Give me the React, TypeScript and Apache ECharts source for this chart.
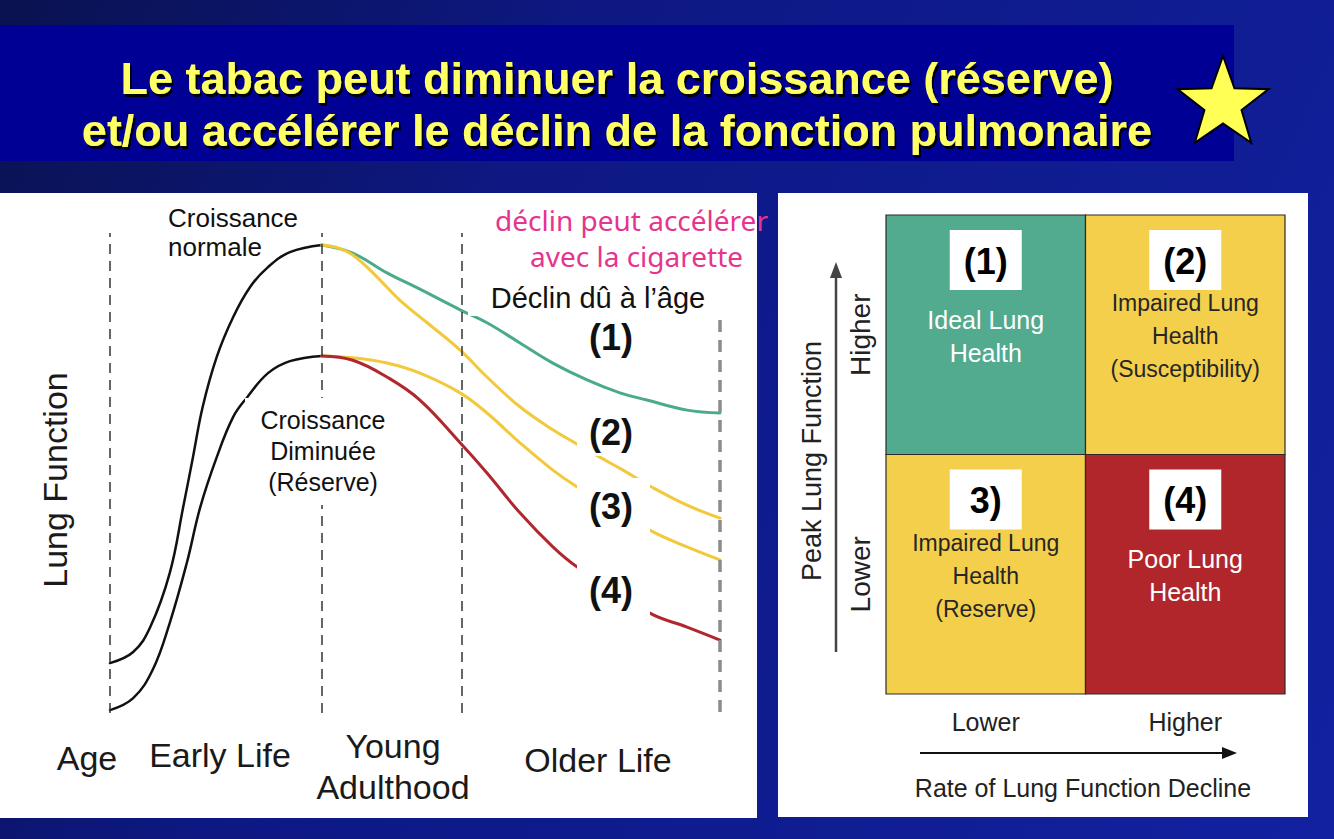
import React, { useEffect, useRef } from 'react';
import * as echarts from 'echarts';

const FONT = 'Liberation Sans, Arial, Helvetica, sans-serif';

const titleLines = [
  'Le tabac peut diminuer la croissance (réserve)',
  'et/ou accélérer le déclin de la fonction pulmonaire',
];

// ---- Left chart: x = age (0 birth … 100 end of older life), y = relative lung function
const lifePhaseBounds = [0, 34.75, 57.7];
const lifeEnd = 100;
const lifeEndDashTop = 81.9;
const phaseLabels = ['Age', 'Early Life', 'Young\nAdulthood', 'Older Life'];
const yAxisTitle = 'Lung Function';

const ageNormal = [0, 3.8, 6.6, 9.8, 12.0, 13.6, 15.2, 17.5, 20.2, 23.0, 25.9, 29.5, 34.75];
const lfNormal = [10.4, 12.7, 17.9, 29.2, 42.9, 53.3, 63.8, 74.2, 82.5, 88.8, 92.9, 96.0, 97.5];

const ageReduced = [0, 3.8, 7.0, 9.8, 12.6, 14.8, 17.5, 20.2, 22.5, 25.9, 29.5, 34.75];
const lfReduced = [0.6, 3.1, 9.0, 18.8, 31.3, 42.9, 53.3, 61.7, 65.8, 70.8, 73.3, 74.4];

const ageDecl1 = [34.75, 39.8, 45.4, 50.8, 57.4, 61.8, 67.2, 72.6, 78.2, 83.6, 88.0, 94.6, 100];
const lfDecl1 = [97.5, 95.8, 91.7, 88.3, 84.0, 81.3, 77.1, 72.9, 69.4, 66.7, 65.2, 63.1, 62.5];

const ageDecl2 = [34.75, 37.4, 39.8, 43.1, 47.5, 52.0, 57.4, 61.8, 67.2, 72.6, 76.6, 80.3, 84.1, 88.5, 94.6, 100];
const lfDecl2 = [97.5, 96.9, 95.4, 91.7, 86.0, 81.3, 75.6, 70.0, 63.8, 59.0, 56.0, 53.3, 50.6, 47.3, 43.3, 40.6];

const ageDecl34 = [34.75, 39.8, 45.4, 50.8, 57.4, 61.8, 67.2, 72.6, 76.6, 88.5, 94.6, 100];
const lfDecl3 = [74.4, 74.0, 72.9, 70.8, 66.7, 62.5, 56.3, 50.6, 47.1, 38.1, 34.6, 31.9];
const lfDecl4 = [74.4, 73.5, 70.0, 65.2, 56.3, 50.0, 41.7, 34.6, 30.4, 20.8, 17.9, 15.2];

const curveLabels = ['(1)', '(2)', '(3)', '(4)'];

// ---- Right matrix
const declineLevels = ['Lower', 'Higher'];
const peakLevels = ['Lower', 'Higher'];
const quadrantDecline = [0, 1, 0, 1];
const quadrantPeak = [1, 1, 0, 0];
const quadrantNums = ['(1)', '(2)', '3)', '(4)'];
const quadrantNames = [
  'Ideal Lung\nHealth',
  'Impaired Lung\nHealth\n(Susceptibility)',
  'Impaired Lung\nHealth\n(Reserve)',
  'Poor Lung\nHealth',
];
const quadrantColors = ['#52aa8f', '#f4cf4c', '#f4cf4c', '#b0262a'];
const quadrantTextColors = ['#ffffff', '#262626', '#262626', '#ffffff'];

const pair = (xs: number[], ys: number[]) => xs.map((x, i) => [x, ys[i]]);

function txt(text: string, x: number, y: number, opts: any = {}) {
  const { z = 20, rotation = 0, ...style } = opts;
  return {
    type: 'text',
    x,
    y,
    z,
    rotation,
    style: {
      text,
      fontFamily: FONT,
      fontSize: 24,
      fill: '#111',
      align: 'center',
      textAlign: 'center',
      verticalAlign: 'middle',
      textVerticalAlign: 'middle',
      ...style,
    },
  };
}

function starPoints(cx: number, cy: number, R: number, r: number) {
  const pts: number[][] = [];
  for (let k = 0; k < 10; k++) {
    const a = (-90 + k * 36) * Math.PI / 180;
    const rr = k % 2 === 0 ? R : r;
    pts.push([cx + rr * Math.cos(a), cy + rr * Math.sin(a)]);
  }
  return pts;
}

export default function App() {
  const ref = useRef<HTMLDivElement>(null);

  useEffect(() => {
    if (!ref.current) return;
    const chart = echarts.init(ref.current, undefined, { renderer: 'svg' });

    const lineSeries = (name: string, data: number[][], color: string, width: number) => ({
      name,
      type: 'line',
      xAxisIndex: 0,
      yAxisIndex: 0,
      data,
      smooth: 0.4,
      symbol: 'none',
      lineStyle: { color, width, cap: 'round' },
      z: 3,
    });

    const graphics: any[] = [
      // title band
      { type: 'rect', z: 0, shape: { x: 0, y: 25, width: 1234, height: 136 }, style: { fill: '#000094' } },
      // panels
      { type: 'rect', z: 0, shape: { x: 0, y: 193, width: 757, height: 625 }, style: { fill: '#ffffff' } },
      { type: 'rect', z: 0, shape: { x: 778, y: 193, width: 530, height: 624 }, style: { fill: '#ffffff' } },
      // star
      { type: 'polygon', z: 5, shape: { points: starPoints(1223, 104, 48, 19.5) }, style: { fill: '#ffff55', stroke: '#000', lineWidth: 2 } },
      // title
      txt(titleLines[0], 617, 78, { fontSize: 45, fontWeight: 'bold', fill: '#ffff66', textShadowColor: '#000', textShadowOffsetX: 2, textShadowOffsetY: 3, textShadowBlur: 1 }),
      txt(titleLines[1], 617, 130, { fontSize: 45, fontWeight: 'bold', fill: '#ffff66', textShadowColor: '#000', textShadowOffsetX: 2, textShadowOffsetY: 3, textShadowBlur: 1 }),

      // left chart annotations
      txt('Croissance\nnormale', 168, 232, { fontSize: 26, align: 'left', textAlign: 'left', lineHeight: 29 }),
      { type: 'rect', z: 10, shape: { x: 245, y: 398, width: 155, height: 107 }, style: { fill: '#fff' } },
      txt('Croissance\nDiminuée\n(Réserve)', 323, 451, { fontSize: 25, lineHeight: 31 }),
      { type: 'rect', z: 10, shape: { x: 468, y: 279, width: 257, height: 37 }, style: { fill: '#fff' } },
      txt('Déclin dû à l’âge', 598, 298, { fontSize: 29 }),
      { type: 'rect', z: 10, shape: { x: 577, y: 408, width: 73, height: 48 }, style: { fill: '#fff' } },
      { type: 'rect', z: 10, shape: { x: 577, y: 478, width: 73, height: 54 }, style: { fill: '#fff' } },
      { type: 'rect', z: 10, shape: { x: 577, y: 562, width: 73, height: 54 }, style: { fill: '#fff' } },
      txt(curveLabels[0], 611, 337, { fontSize: 36, fontWeight: 'bold' }),
      txt(curveLabels[1], 611, 432, { fontSize: 36, fontWeight: 'bold' }),
      txt(curveLabels[2], 611, 506, { fontSize: 36, fontWeight: 'bold' }),
      txt(curveLabels[3], 611, 590, { fontSize: 36, fontWeight: 'bold' }),
      txt(yAxisTitle, 55, 480, { fontSize: 34, rotation: Math.PI / 2, fill: '#1a1a1a' }),
      txt(phaseLabels[0], 87, 758, { fontSize: 34, fill: '#1a1a1a' }),
      txt(phaseLabels[1], 220, 755, { fontSize: 34, fill: '#1a1a1a' }),
      txt(phaseLabels[2], 393, 766, { fontSize: 34, fill: '#1a1a1a', lineHeight: 41 }),
      txt(phaseLabels[3], 598, 760, { fontSize: 34, fill: '#1a1a1a' }),
      // handwritten note
      txt('déclin peut accélérer', 495, 220, { fontSize: 28, fontFamily: 'Noto Sans, sans-serif', fill: '#e5358e', align: 'left', textAlign: 'left', z: 30 }),
      txt('avec la cigarette', 530, 256, { fontSize: 28, fontFamily: 'Noto Sans, sans-serif', fill: '#e5358e', align: 'left', textAlign: 'left', z: 30 }),

      // right matrix axes
      txt('Peak Lung Function', 812, 461, { fontSize: 27, rotation: Math.PI / 2, fill: '#222' }),
      { type: 'line', z: 5, shape: { x1: 836, y1: 652, x2: 836, y2: 274 }, style: { stroke: '#444', lineWidth: 2.5 } },
      { type: 'polygon', z: 5, shape: { points: [[836, 262], [830, 278], [842, 278]] }, style: { fill: '#444' } },
      { type: 'line', z: 5, shape: { x1: 920, y1: 753, x2: 1226, y2: 753 }, style: { stroke: '#111', lineWidth: 2 } },
      { type: 'polygon', z: 5, shape: { points: [[1237, 753], [1222, 747], [1222, 759]] }, style: { fill: '#111' } },
      txt('Rate of Lung Function Decline', 1083, 788, { fontSize: 25, fill: '#222' }),
    ];

    const option: any = {
      animation: false,
      textStyle: { fontFamily: FONT },
      grid: [
        { left: 110, top: 233, width: 610, height: 480 },
        { left: 886, top: 215, width: 399, height: 479 },
      ],
      xAxis: [
        { gridIndex: 0, type: 'value', min: 0, max: 100, show: false },
        {
          gridIndex: 1, type: 'category', data: declineLevels,
          axisLine: { show: false }, axisTick: { show: false }, splitLine: { show: false },
          axisLabel: { fontSize: 25, color: '#222', margin: 15, fontFamily: FONT },
        },
      ],
      yAxis: [
        { gridIndex: 0, type: 'value', min: 0, max: 100, show: false },
        {
          gridIndex: 1, type: 'category', data: peakLevels,
          axisLine: { show: false }, axisTick: { show: false }, splitLine: { show: false },
          axisLabel: { rotate: 90, fontSize: 28, color: '#222', margin: 12, fontFamily: FONT },
        },
      ],
      series: [
        {
          ...lineSeries('Croissance normale', pair(ageNormal, lfNormal), '#111', 2.5),
          markLine: {
            silent: true,
            symbol: 'none',
            label: { show: false },
            lineStyle: { color: '#333', width: 1.5, type: [10, 7] },
            data: [
              ...lifePhaseBounds.map((v) => ({ xAxis: v })),
              [
                { coord: [lifeEnd, lifeEndDashTop], lineStyle: { color: '#8c8c8c', width: 3.5, type: [12, 8] } },
                { coord: [lifeEnd, 0] },
              ],
            ],
          },
        },
        lineSeries('Croissance diminuée', pair(ageReduced, lfReduced), '#111', 2.5),
        lineSeries('(1)', pair(ageDecl1, lfDecl1), '#4caa8c', 3),
        lineSeries('(2)', pair(ageDecl2, lfDecl2), '#f2c93a', 3),
        lineSeries('(3)', pair(ageDecl34, lfDecl3), '#f2c93a', 3),
        lineSeries('(4)', pair(ageDecl34, lfDecl4), '#b0272d', 3),
        {
          type: 'custom',
          coordinateSystem: 'cartesian2d',
          xAxisIndex: 1,
          yAxisIndex: 1,
          z: 3,
          data: quadrantDecline.map((x, i) => [x, quadrantPeak[i], i]),
          encode: { x: 0, y: 1 },
          renderItem: (params: any, api: any) => {
            const i = api.value(2);
            const c = api.coord([api.value(0), api.value(1)]);
            const s = api.size([1, 1]);
            const left = c[0] - s[0] / 2;
            const top = c[1] - s[1] / 2;
            return {
              type: 'group',
              children: [
                { type: 'rect', shape: { x: left, y: top, width: s[0], height: s[1] }, style: { fill: quadrantColors[i], stroke: '#2a2a2a', lineWidth: 1.2 } },
                { type: 'rect', shape: { x: c[0] - 36, y: top + 15, width: 72, height: 60 }, style: { fill: '#fff' } },
                {
                  type: 'text', x: c[0], y: top + 46,
                  style: { text: quadrantNums[i], fontFamily: FONT, fontSize: 36, fontWeight: 'bold', fill: '#000', align: 'center', textAlign: 'center', verticalAlign: 'middle', textVerticalAlign: 'middle' },
                },
                {
                  type: 'text', x: c[0], y: top + 121,
                  style: { text: quadrantNames[i], fontFamily: FONT, fontSize: quadrantTextColors[i] === '#ffffff' ? 25 : 23, lineHeight: 33, fill: quadrantTextColors[i], align: 'center', textAlign: 'center', verticalAlign: 'middle', textVerticalAlign: 'middle' },
                },
              ],
            };
          },
        },
      ],
      graphic: { elements: graphics },
    };

    chart.setOption(option);
    return () => chart.dispose();
  }, []);

  return (
    <div
      ref={ref}
      style={{
        position: 'fixed',
        left: 0,
        top: 0,
        width: 1334,
        height: 839,
        background: 'linear-gradient(115deg, #0a1250 0%, #0d1883 35%, #1221a0 100%)',
      }}
    />
  );
}
